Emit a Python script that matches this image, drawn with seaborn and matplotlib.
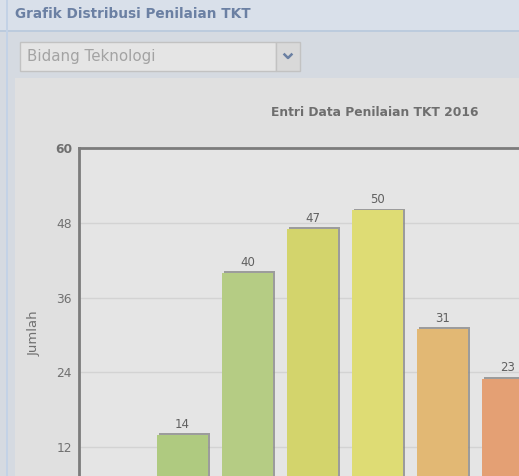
import matplotlib
matplotlib.use("Agg")
import matplotlib.pyplot as plt
import matplotlib.patches as mpatches
import matplotlib.patheffects as pe
import seaborn as sns
import pandas as pd

# ---- data ----
categories = ["TKT 1", "TKT 2", "TKT 3", "TKT 4", "TKT 5", "TKT 6", "TKT 7"]
values = [2, 14, 40, 47, 50, 31, 23]
bar_colors = ["#a9c97e", "#afca80", "#b5cc84", "#d3d46c", "#dedc74", "#e2b874", "#e4a074"]
y_ticks = [12, 24, 36, 48, 60]
panel_title = "Grafik Distribusi Penilaian TKT"
dropdown_text = "Bidang Teknologi"
chart_title = "Entri Data Penilaian TKT 2016"
y_label = "Jumlah"

W, H = 519, 476
fig = plt.figure(figsize=(W / 100, H / 100), dpi=100)
fig.patch.set_facecolor("#d5dae1")

def px_rect(x0, y0, x1, y1, **kw):
    r = mpatches.Rectangle((x0 / W, 1 - y1 / H), (x1 - x0) / W, (y1 - y0) / H,
                           transform=fig.transFigure, zorder=-5, **kw)
    fig.patches.append(r)
    return r

# header
px_rect(0, 0, W, 31, facecolor="#d9e0ea", edgecolor="none")
px_rect(0, 30, W, 32, facecolor="#bccbdd", edgecolor="none")
# left border
px_rect(6, 0, 8, H, facecolor="#c3d2e6", edgecolor="none")
fig.text(15 / W, 1 - 14 / H, panel_title, color="#6b80a3", fontsize=9.8, fontweight="bold",
         va="center", ha="left", family="DejaVu Sans")
# dropdown
px_rect(20, 42, 276, 71, facecolor="#e5e5e5", edgecolor="#c2c2c2", linewidth=1)
px_rect(276, 42, 300, 71, facecolor="#d9d9d9", edgecolor="#c2c2c2", linewidth=1)
fig.text(27 / W, 1 - 57 / H, dropdown_text, color="#a3a3a3", fontsize=10.8,
         va="center", ha="left", family="DejaVu Sans")
fig.lines.append(plt.Line2D([284.5 / W, 288 / W, 291.5 / W],
                            [1 - 54.5 / H, 1 - 58 / H, 1 - 54.5 / H],
                            transform=fig.transFigure, color="#6b80a3", linewidth=1.8))
# chart container
px_rect(15, 78, W, H, facecolor="#e0e0e0", edgecolor="none")
fig.text(375 / W, 1 - 112 / H, chart_title, color="#6e6e6e", fontsize=8.8, fontweight="bold",
         va="center", ha="center", family="DejaVu Sans")

# axes (extends beyond figure, as in the cropped screenshot)
ax_left, ax_right, ax_top, zero_y = 79, 700, 148, 522
ax = fig.add_axes([ax_left / W, 1 - zero_y / H, (ax_right - ax_left) / W, (zero_y - ax_top) / H])
ax.set_zorder(5)
ax.set_facecolor("#e5e5e5")

df = pd.DataFrame({"cat": categories, "val": values})
sns.barplot(data=df, x="cat", y="val", hue="cat", palette=bar_colors, legend=False,
            width=0.785, ax=ax, zorder=3, saturation=1)
for p in ax.patches:
    p.set_path_effects([pe.SimplePatchShadow(offset=(1.3, 1.3), shadow_rgbFace="#8a8a8a", alpha=0.8),
                        pe.Normal()])
    p.set_edgecolor("none")

slot = 65.0
x0 = -(117.5 - ax_left) / slot
ax.set_xlim(x0, x0 + (ax_right - ax_left) / slot)
ax.set_ylim(0, 60)
ax.set_yticks(y_ticks)
ax.set_yticklabels([str(t) for t in y_ticks])
for lab in ax.get_yticklabels():
    lab.set_color("#707070")
    lab.set_fontsize(8.8)
ax.get_yticklabels()[-1].set_fontweight("bold")
ax.tick_params(axis="y", length=0, pad=5)
ax.set_xticks([])
ax.set_xlabel("")
ax.set_ylabel(y_label, color="#707070", fontsize=9.5)
ax.yaxis.set_label_coords(-(ax_left - 41) / (ax_right - ax_left), (zero_y - 333) / (zero_y - ax_top))
ax.yaxis.grid(True, color="#d3d3d3", linewidth=1, zorder=0)
ax.set_axisbelow(True)
for s in ["right", "bottom"]:
    ax.spines[s].set_visible(False)
ax.spines["left"].set_color("#7c7c7c")
ax.spines["left"].set_linewidth(2)
ax.spines["top"].set_color("#7c7c7c")
ax.spines["top"].set_linewidth(2)

for c in ax.containers:
    ax.bar_label(c, fmt="%d", padding=3, color="#606060", fontsize=8.5)

fig.savefig("out.png", dpi=100, facecolor=fig.get_facecolor())
